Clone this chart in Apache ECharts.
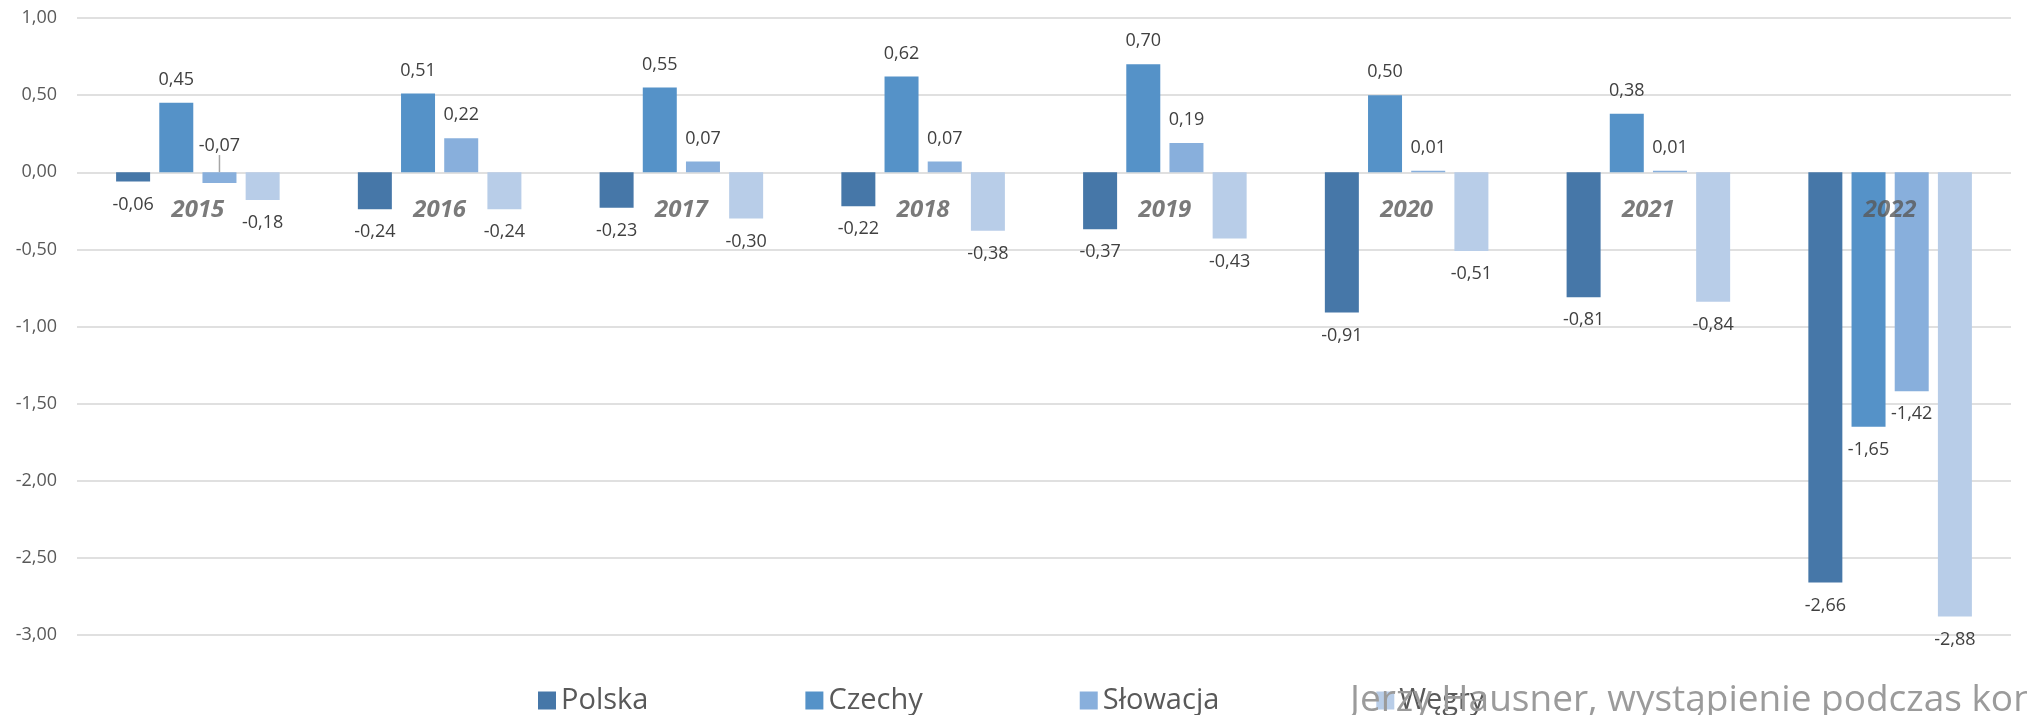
<!DOCTYPE html>
<html>
<head>
<meta charset="utf-8">
<script src="https://cdn.jsdelivr.net/npm/echarts@6/dist/echarts.min.js"></script>
<style>
  html, body { margin: 0; padding: 0; background: #fff; }
  #chart { width: 2027px; height: 715px; }
</style>
</head>
<body>
<div id="chart"></div>
<script>
  // dane
  const years = ['2015', '2016', '2017', '2018', '2019', '2020', '2021', '2022']
  const polska = [-0.06, -0.24, -0.23, -0.22, -0.37, -0.91, -0.81, -2.66]
  const czechy = [0.45, 0.51, 0.55, 0.62, 0.70, 0.50, 0.38, -1.65]
  const slowacja = [-0.07, 0.22, 0.07, 0.07, 0.19, 0.01, 0.01, -1.42]
  const wegry = [-0.18, -0.24, -0.30, -0.38, -0.43, -0.51, -0.84, -2.88]
  const yTicks = { min: -3, max: 1, interval: 0.5 }

  const fmt = v => Number(v).toFixed(2).replace('.', ',')
  const font = '"Open Sans", "DejaVu Sans", sans-serif'

  const myChart = echarts.init(document.getElementById('chart'))

  function barSeries (name, data, color, extra) {
    return Object.assign({
      name,
      type: 'bar',
      data,
      barWidth: 34,
      barGap: '27%',
      itemStyle: { color },
      label: {
        show: true,
        position: 'outside',
        distance: 14,
        formatter: p => fmt(p.value),
        color: '#404040',
        fontSize: 18,
        fontFamily: font
      }
    }, extra || {})
  }

  let option = {
    animation: false,
    color: ['#4677a8', '#5592c8', '#88afdc', '#b8cde8'],
    grid: {
      top: 18,
      left: 77,
      right: 16,
      bottom: 80
    },
    legend: {
      data: ['Polska', 'Czechy', 'Słowacja', 'Węgry'],
      left: 533,
      top: 681,
      icon: 'rect',
      itemWidth: 18,
      itemHeight: 18,
      itemGap: 157,
      textStyle: {
        color: '#595959',
        fontSize: 29,
        fontFamily: font
      }
    },
    xAxis: [{
      type: 'category',
      data: years,
      axisLine: { show: false },
      axisTick: { show: false },
      axisLabel: { show: false }
    }, {
      // osobna oś dla podpisów lat przy linii zera
      type: 'category',
      data: years,
      show: false
    }],
    yAxis: {
      type: 'value',
      min: yTicks.min,
      max: yTicks.max,
      interval: yTicks.interval,
      axisLine: { show: false },
      axisTick: { show: false },
      axisLabel: {
        formatter: v => fmt(v),
        color: '#595959',
        fontSize: 18,
        margin: 20,
        fontFamily: font
      },
      splitLine: {
        lineStyle: { color: '#e0e0e0', width: 2 }
      }
    },
    series: [
      barSeries('Polska', polska, '#4677a8'),
      barSeries('Czechy', czechy, '#5592c8'),
      barSeries('Słowacja', slowacja.map((v, i) => i === 0 ? { value: v, labelLine: { show: true } } : v), '#88afdc', {
        // etykieta -0,07 przesunięta nad oś
        labelLayout: p => (p.dataIndex === 0 ? { dy: -60 } : {}),
        labelLine: { show: false, lineStyle: { color: '#a6a6a6', width: 1.5 } }
      }),
      barSeries('Węgry', wegry, '#b8cde8'),
      {
        name: 'lata',
        type: 'scatter',
        xAxisIndex: 1,
        z: 10,
        symbolSize: 0,
        silent: true,
        data: years.map(y => [y, 0]),
        label: {
          show: true,
          position: 'bottom',
          distance: 26,
          formatter: p => p.value[0],
          color: '#595959',
          fontSize: 24,
          fontWeight: 'bold',
          fontStyle: 'italic',
          fontFamily: font
        }
      }
    ],
    graphic: [{
      type: 'text',
      left: 1350,
      top: 682,
      z: 100,
      style: {
        text: 'Jerzy Hausner, wystąpienie podczas konferencji',
        fill: '#9b9b9b',
        fontSize: 37,
        fontFamily: font
      }
    }]
  }
  myChart.setOption(option)
</script>
</body>
</html>
